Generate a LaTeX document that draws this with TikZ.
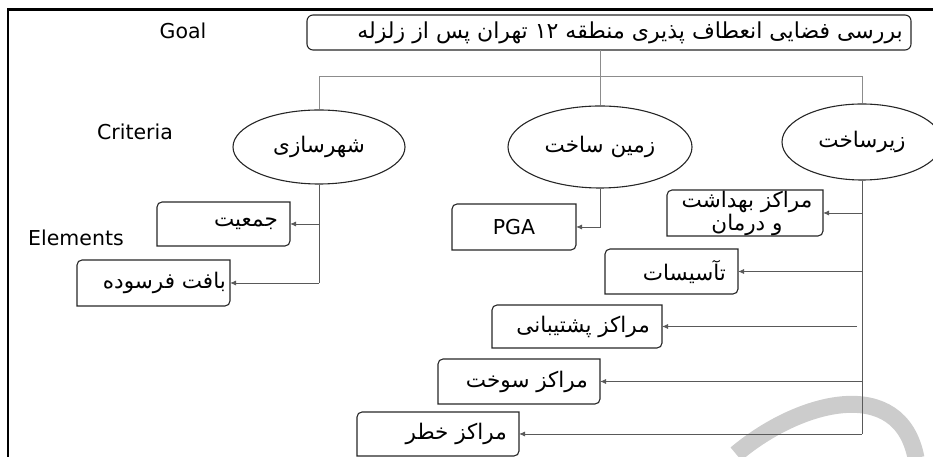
\documentclass[tikz,border=0pt]{standalone}
\usepackage{fontspec}
\setmainfont{DejaVu Sans}
\newfontfamily\ar[Script=Arabic]{DejaVu Sans}
\TeXXeTstate=1
\usetikzlibrary{shapes.geometric,arrows.meta}
\newcommand\dbox[1]{\draw[boxline] ([xshift=5pt]#1.north west) -- (#1.north east) -- ([yshift=5pt]#1.south east) arc[start angle=0,end angle=-90,radius=5pt] -- (#1.south west) -- ([yshift=-5pt]#1.north west) arc[start angle=180,end angle=90,radius=5pt] -- cycle;}
\tikzset{
  boxline/.style={draw=black!85, line width=1.1pt},
  boxn/.style={rectangle, inner sep=0pt, outer sep=0pt},
  lbl/.style={font=\fontsize{20.5}{24}\selectfont, inner sep=0pt},
  artxt/.style={font=\ar\fontsize{21.5}{24}\selectfont, inner sep=0pt, anchor=east},
  crit/.style={ellipse, draw=black!85, line width=1.1pt, inner sep=0pt, font=\ar\fontsize{21.5}{24}\selectfont},
  topline/.style={draw=black!45, line width=1pt},
  conn/.style={draw=black!65, line width=0.9pt, -{Latex[length=6pt,width=5pt]}},
  plainconn/.style={draw=black!65, line width=0.9pt},
}
\begin{document}
\begin{tikzpicture}[x=1pt,y=1pt]
\useasboundingbox (0,0) rectangle (933,457);
\clip (0,0) rectangle (933,457);
% watermark arc
\draw[line width=17pt, color=black!20] (736,457-454) .. controls (800,457-400) and (900,457-375) .. (916,457-458);
% frame
\draw[line width=2.2pt, line join=miter] (8.3,0) -- (8.3,457-9.5) -- (934,457-9.5);
% labels
\node[lbl] (lgoal) at (183,457-31) {Goal};
\node[lbl] (lcrit) at (135,457-132) {Criteria};
\node[lbl] (lelem) at (76,457-238) {Elements};
% goal
\node[draw=black!85, line width=1.1pt, rounded corners=6pt, rectangle, inner sep=0pt, outer sep=0pt, minimum width=604, minimum height=35] (goal) at (609,457-32.5) {};
\node[artxt, font=\ar\fontsize{22}{24}\selectfont] (tgoal) at ([xshift=-8pt]goal.east) {\beginR بررسی فضایی انعطاف پذیری منطقه ۱۲ تهران پس از زلزله\endR};
% criteria
\node[crit, minimum width=172, minimum height=74] (e1) at (319,457-147) {\beginR شهرسازی\endR};
\node[crit, minimum width=184, minimum height=82] (e2) at (600,457-147) {\beginR زمین ساخت\endR};
\node[crit, minimum width=160, minimum height=76] (e3) at (862,457-142) {\beginR زیرساخت\endR};
% top connectors
\coordinate (hbar) at (600,457-77);
\draw[topline] (e2.north |- goal.south) -- (e2.north);
\draw[topline] (e1.north) -- (e1.north |- hbar) -- (e3.north |- hbar) -- (e3.north);
% element boxes
\node[boxn, minimum width=133, minimum height=44] (jam) at (223.5,457-224) {};
\node[boxn, minimum width=153, minimum height=46] (baf) at (153.5,457-283) {};
\node[boxn, minimum width=124, minimum height=46] (pga) at (514,457-227) {};
\node[boxn, minimum width=156, minimum height=46] (beh) at (745,457-213) {};
\node[boxn, minimum width=133, minimum height=45] (tas) at (671.5,457-271.5) {};
\node[boxn, minimum width=170, minimum height=43] (pos) at (577,457-326.5) {};
\node[boxn, minimum width=162, minimum height=45] (suk) at (519,457-381.5) {};
\node[boxn, minimum width=162, minimum height=44] (kha) at (438,457-434) {};
\dbox{jam}\dbox{baf}\dbox{pga}\dbox{beh}\dbox{tas}\dbox{pos}\dbox{suk}\dbox{kha}
% texts
\node[artxt] (tjam) at ([xshift=-12pt]jam.east) {\beginR جمعیت\endR};
\node[artxt] (tbaf) at ([xshift=-4pt]baf.east) {\beginR بافت فرسوده\endR};
\node[lbl] (tpga) at (pga.center) {PGA};
\node[font=\ar\fontsize{21.5}{23}\selectfont, align=center, inner sep=0pt] (tbeh) at ([xshift=2pt,yshift=0pt]beh.center) {\beginR مراکز بهداشت\endR\\\beginR و درمان\endR};
\node[artxt] (ttas) at ([xshift=-12pt]tas.east) {\beginR تآسیسات\endR};
\node[artxt] (tpos) at ([xshift=-12pt]pos.east) {\beginR مراکز پشتیبانی\endR};
\node[artxt] (tsuk) at ([xshift=-12pt]suk.east) {\beginR مراکز سوخت\endR};
\node[artxt] (tkha) at ([xshift=-12pt]kha.east) {\beginR مراکز خطر\endR};
% lower connectors
\draw[plainconn] (e1.south) -- (e1.south |- baf.east);
\draw[conn] (e1.south |- jam.east) -- (jam.east);
\draw[conn] (e1.south |- baf.east) -- (baf.east);
\draw[conn] (e2.south) |- (pga.east);
\draw[plainconn] (e3.south) -- (e3.south |- kha.east);
\draw[conn] (e3.south |- beh.east) -- (beh.east);
\draw[conn] (e3.south |- tas.east) -- (tas.east);
\coordinate (pstart) at ([xshift=-5pt]e3.south |- pos.east);
\draw[conn] (pstart) -- (pos.east);
\draw[conn] (e3.south |- suk.east) -- (suk.east);
\draw[conn] (e3.south |- kha.east) -- (kha.east);
\end{tikzpicture}
\end{document}
